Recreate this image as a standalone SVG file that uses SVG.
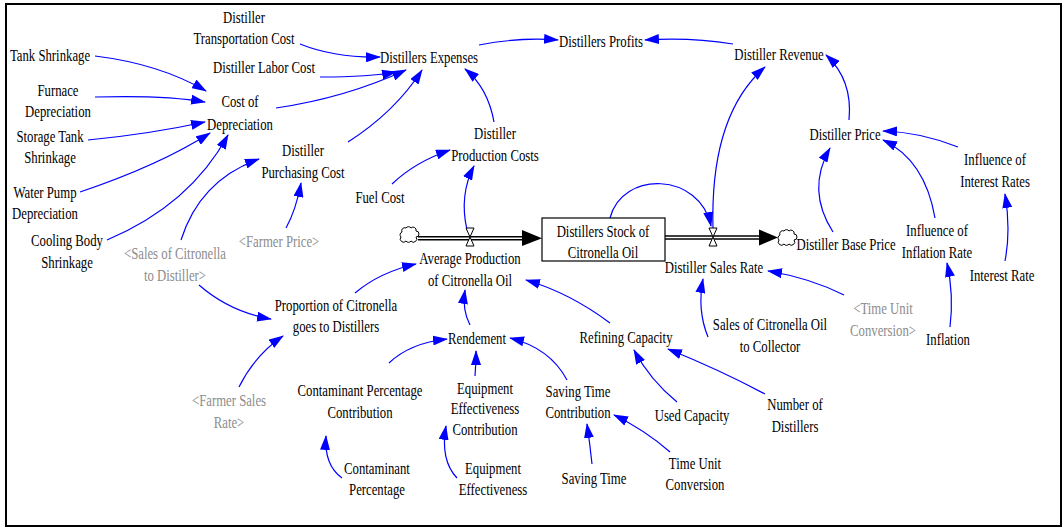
<svg xmlns="http://www.w3.org/2000/svg" width="1064" height="529" viewBox="0 0 1064 529">
<style>
.t{font-family:"Liberation Serif","Times New Roman",serif;font-size:17px;text-anchor:middle;fill:#000}
.g{fill:#8c8c8c}
.c{fill:none;stroke:#0000ff;stroke-width:1.2;marker-end:url(#ah)}
.valve{fill:#fff;stroke:#000;stroke-width:1}
.cloud{fill:#fff;stroke:#000;stroke-width:1}
</style>
<defs>
<marker id="ah" markerUnits="userSpaceOnUse" markerWidth="15" markerHeight="10" refX="14" refY="5" orient="auto">
<path d="M0,0 L15,5 L0,10 Z" fill="#0000ff"/>
</marker>
<path id="cl" class="cloud" d="M-7,-3 a3,3 0 0 1 4,-4 a3,3 0 0 1 5,0 a3,3 0 0 1 5,3 a3,3 0 0 1 0,6 a3,3 0 0 1 -5,4 a3,3 0 0 1 -5,0 a3,3 0 0 1 -5,-4 a3,3 0 0 1 1,-5 z"/>
</defs>
<rect x="6" y="4" width="1055" height="522" fill="#fff" stroke="#000" stroke-width="2"/>

<g id="connectors">
<path class="c" d="M95,56 Q160,64 206,91"/>
<path class="c" d="M95,97 Q165,95 205,102"/>
<path class="c" d="M88,140 Q150,134 205,122"/>
<path class="c" d="M80,192 Q160,165 210,133"/>
<path class="c" d="M107,240 Q190,205 228,135"/>
<path class="c" d="M300,44 Q335,58 380,57"/>
<path class="c" d="M320,77 Q370,77 396,72"/>
<path class="c" d="M276,108 Q345,98 406,70"/>
<path class="c" d="M348,142 Q395,112 422,70"/>
<path class="c" d="M494,122 Q488,88 465,69"/>
<path class="c" d="M479,45 Q520,37 558,40"/>
<path class="c" d="M733,44 Q690,37 645,40"/>
<path class="c" d="M849,120 Q853,80 826,55"/>
<path class="c" d="M833,232 Q806,190 830,148"/>
<path class="c" d="M935,218 Q925,160 883,140"/>
<path class="c" d="M958,147 Q920,132 883,131"/>
<path class="c" d="M1005,261 Q1011,230 1005,194"/>
<path class="c" d="M950,327 Q954,295 947,263"/>
<path class="c" d="M844,295 Q810,278 768,271"/>
<path class="c" d="M708,337 Q697,310 703,279"/>
<path class="c" d="M765,394 Q720,370 668,349"/>
<path class="c" d="M677,402 Q650,380 634,350"/>
<path class="c" d="M610,323 Q570,293 526,280"/>
<path class="c" d="M470,325 Q462,310 465,290"/>
<path class="c" d="M355,293 Q380,272 416,264"/>
<path class="c" d="M389,363 Q410,343 447,339"/>
<path class="c" d="M475,376 Q476,365 476,351"/>
<path class="c" d="M567,380 Q550,348 510,338"/>
<path class="c" d="M592,464 Q590,445 587,424"/>
<path class="c" d="M670,452 Q645,430 614,415"/>
<path class="c" d="M457,478 Q440,460 446,426"/>
<path class="c" d="M342,478 Q324,465 326,436"/>
<path class="c" d="M239,387 Q255,355 283,336"/>
<path class="c" d="M199,285 Q230,312 271,319"/>
<path class="c" d="M181,240 Q200,180 259,159"/>
<path class="c" d="M286,228 Q296,210 301,183"/>
<path class="c" d="M392,184 Q415,162 450,150"/>
<path class="c" d="M467,230 Q459,195 474,166"/>
<path class="c" d="M610,218 C622,170 700,172 711,226"/>
<path class="c" d="M713,228 Q710,115 765,67"/>
</g>

<g id="flow-average-production">
<line x1="418" y1="238.2" x2="524" y2="238.2" stroke="#000" stroke-width="4.6"/>
<line x1="416" y1="238.2" x2="524" y2="238.2" stroke="#fff" stroke-width="1.6"/>
<path d="M522,230 L542,238.2 L522,246 Z" fill="#000"/>
<use href="#cl" x="409" y="235"/>
<path class="valve" d="M466,228 L474,228 L466,246 L474,246 Z"/>
</g>
<g id="flow-sales-rate">
<line x1="665" y1="237.5" x2="762" y2="237.5" stroke="#000" stroke-width="4.6"/>
<line x1="665" y1="237.5" x2="762" y2="237.5" stroke="#fff" stroke-width="1.6"/>
<path d="M759,229.5 L778,237.5 L759,245.5 Z" fill="#000"/>
<use href="#cl" x="787" y="238"/>
<path class="valve" d="M709,228 L717,228 L709,246 L717,246 Z"/>
</g>

<g id="stock">
<rect x="542" y="218" width="123" height="43" fill="#fff" stroke="#000" stroke-width="1.2"/>
<text class="t" transform="matrix(0.75 0 0 1 603 0)"><tspan x="0" y="237">Distillers Stock of</tspan><tspan x="0" y="258">Citronella Oil</tspan></text>
</g>

<g id="transport"><text class="t" transform="matrix(0.75 0 0 1 244 0)"><tspan x="0" y="23">Distiller</tspan><tspan x="0" y="44">Transportation Cost</tspan></text></g>
<g id="tank"><text class="t" transform="matrix(0.75 0 0 1 50 0)"><tspan x="0" y="61">Tank Shrinkage</tspan></text></g>
<g id="furnace"><text class="t" transform="matrix(0.75 0 0 1 58 0)"><tspan x="0" y="96">Furnace</tspan><tspan x="0" y="117">Depreciation</tspan></text></g>
<g id="labor"><text class="t" transform="matrix(0.75 0 0 1 264 0)"><tspan x="0" y="73">Distiller Labor Cost</tspan></text></g>
<g id="depreciation"><text class="t" transform="matrix(0.75 0 0 1 240 0)"><tspan x="0" y="107">Cost of</tspan><tspan x="0" y="130">Depreciation</tspan></text></g>
<g id="storage"><text class="t" transform="matrix(0.75 0 0 1 50 0)"><tspan x="0" y="142">Storage Tank</tspan><tspan x="0" y="163">Shrinkage</tspan></text></g>
<g id="pump"><text class="t" transform="matrix(0.75 0 0 1 45 0)"><tspan x="0" y="198">Water Pump</tspan><tspan x="0" y="219">Depreciation</tspan></text></g>
<g id="cooling"><text class="t" transform="matrix(0.75 0 0 1 67 0)"><tspan x="0" y="246">Cooling Body</tspan><tspan x="0" y="268">Shrinkage</tspan></text></g>
<g id="purchasing"><text class="t" transform="matrix(0.75 0 0 1 303 0)"><tspan x="0" y="156">Distiller</tspan><tspan x="0" y="178">Purchasing Cost</tspan></text></g>
<g id="farmer-price"><text class="t g" transform="matrix(0.75 0 0 1 279 0)"><tspan x="0" y="247">&lt;Farmer Price&gt;</tspan></text></g>
<g id="sales-to-distiller"><text class="t g" transform="matrix(0.75 0 0 1 175 0)"><tspan x="0" y="259">&lt;Sales of Citronella</tspan><tspan x="0" y="281">to Distiller&gt;</tspan></text></g>
<g id="expenses"><text class="t" transform="matrix(0.75 0 0 1 429 0)"><tspan x="0" y="63">Distillers Expenses</tspan></text></g>
<g id="profits"><text class="t" transform="matrix(0.75 0 0 1 601 0)"><tspan x="0" y="47">Distillers Profits</tspan></text></g>
<g id="revenue"><text class="t" transform="matrix(0.75 0 0 1 779 0)"><tspan x="0" y="60">Distiller Revenue</tspan></text></g>
<g id="production-costs"><text class="t" transform="matrix(0.75 0 0 1 495 0)"><tspan x="0" y="139">Distiller</tspan><tspan x="0" y="161">Production Costs</tspan></text></g>
<g id="fuel"><text class="t" transform="matrix(0.75 0 0 1 380 0)"><tspan x="0" y="203">Fuel Cost</tspan></text></g>
<g id="price"><text class="t" transform="matrix(0.75 0 0 1 845 0)"><tspan x="0" y="140">Distiller Price</tspan></text></g>
<g id="interest-influence"><text class="t" transform="matrix(0.75 0 0 1 995 0)"><tspan x="0" y="165">Influence of</tspan><tspan x="0" y="187">Interest Rates</tspan></text></g>
<g id="base-price"><text class="t" transform="matrix(0.75 0 0 1 846 0)"><tspan x="0" y="250">Distiller Base Price</tspan></text></g>
<g id="inflation-influence"><text class="t" transform="matrix(0.75 0 0 1 937 0)"><tspan x="0" y="236">Influence of</tspan><tspan x="0" y="258">Inflation Rate</tspan></text></g>
<g id="interest-rate"><text class="t" transform="matrix(0.75 0 0 1 1002 0)"><tspan x="0" y="281">Interest Rate</tspan></text></g>
<g id="inflation"><text class="t" transform="matrix(0.75 0 0 1 948 0)"><tspan x="0" y="345">Inflation</tspan></text></g>
<g id="time-unit-shadow"><text class="t g" transform="matrix(0.75 0 0 1 883 0)"><tspan x="0" y="314">&lt;Time Unit</tspan><tspan x="0" y="336">Conversion&gt;</tspan></text></g>
<g id="sales-collector"><text class="t" transform="matrix(0.75 0 0 1 770 0)"><tspan x="0" y="330">Sales of Citronella Oil</tspan><tspan x="0" y="352">to Collector</tspan></text></g>
<g id="sales-rate"><text class="t" transform="matrix(0.75 0 0 1 714 0)"><tspan x="0" y="273">Distiller Sales Rate</tspan></text></g>
<g id="num-distillers"><text class="t" transform="matrix(0.75 0 0 1 795 0)"><tspan x="0" y="410">Number of</tspan><tspan x="0" y="432">Distillers</tspan></text></g>
<g id="refining"><text class="t" transform="matrix(0.75 0 0 1 626 0)"><tspan x="0" y="343">Refining Capacity</tspan></text></g>
<g id="used-capacity"><text class="t" transform="matrix(0.75 0 0 1 692 0)"><tspan x="0" y="421">Used Capacity</tspan></text></g>
<g id="time-unit"><text class="t" transform="matrix(0.75 0 0 1 695 0)"><tspan x="0" y="469">Time Unit</tspan><tspan x="0" y="490">Conversion</tspan></text></g>
<g id="saving-contribution"><text class="t" transform="matrix(0.75 0 0 1 578 0)"><tspan x="0" y="397">Saving Time</tspan><tspan x="0" y="418">Contribution</tspan></text></g>
<g id="saving-time"><text class="t" transform="matrix(0.75 0 0 1 594 0)"><tspan x="0" y="484">Saving Time</tspan></text></g>
<g id="rendement"><text class="t" transform="matrix(0.75 0 0 1 477 0)"><tspan x="0" y="344">Rendement</tspan></text></g>
<g id="equip-contribution"><text class="t" transform="matrix(0.75 0 0 1 485 0)"><tspan x="0" y="394">Equipment</tspan><tspan x="0" y="414">Effectiveness</tspan><tspan x="0" y="435">Contribution</tspan></text></g>
<g id="equip"><text class="t" transform="matrix(0.75 0 0 1 493 0)"><tspan x="0" y="474">Equipment</tspan><tspan x="0" y="495">Effectiveness</tspan></text></g>
<g id="contam-contribution"><text class="t" transform="matrix(0.75 0 0 1 360 0)"><tspan x="0" y="396">Contaminant Percentage</tspan><tspan x="0" y="418">Contribution</tspan></text></g>
<g id="contam"><text class="t" transform="matrix(0.75 0 0 1 377 0)"><tspan x="0" y="474">Contaminant</tspan><tspan x="0" y="495">Percentage</tspan></text></g>
<g id="avg-production"><text class="t" transform="matrix(0.75 0 0 1 470 0)"><tspan x="0" y="264">Average Production</tspan><tspan x="0" y="286">of Citronella Oil</tspan></text></g>
<g id="proportion"><text class="t" transform="matrix(0.75 0 0 1 336 0)"><tspan x="0" y="311">Proportion of Citronella</tspan><tspan x="0" y="332">goes to Distillers</tspan></text></g>
<g id="farmer-sales"><text class="t g" transform="matrix(0.75 0 0 1 229 0)"><tspan x="0" y="406">&lt;Farmer Sales</tspan><tspan x="0" y="428">Rate&gt;</tspan></text></g>
</svg>
